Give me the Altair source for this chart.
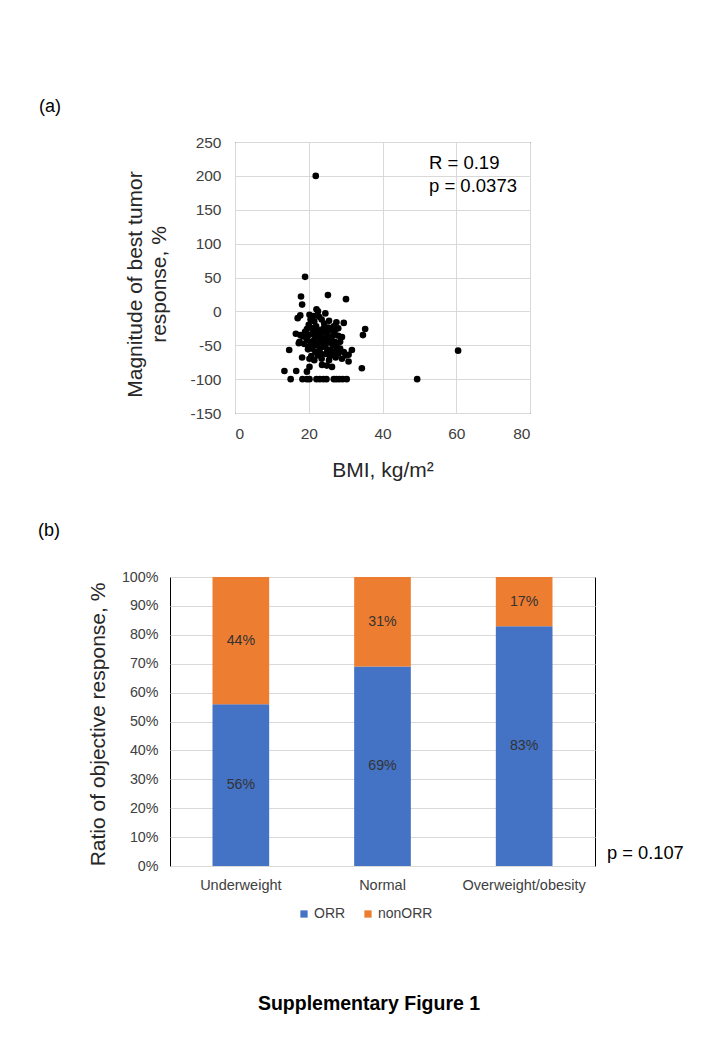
import altair as alt
import pandas as pd

FONT = "Liberation Sans, Arial, sans-serif"

# ---- (a) scatter: BMI vs magnitude of best tumor response ----
bmi = [
    21.9, 19.0, 17.9, 18.2, 25.2, 30.1, 22.1, 17.7, 17.0, 16.5, 17.7, 17.3,
    14.7, 18.2, 13.4, 16.6, 19.5, 20.2, 23.6, 24.9, 26.3, 34.4, 35.3, 34.7,
    31.7, 30.8, 30.8, 49.4, 60.5,
    15.1, 18.3, 19.5, 20.2, 22.1, 23.0, 24.0, 24.8, 26.8, 27.5, 28.3, 29.2, 30.3,
    20.5, 21.5, 22.8, 23.5, 24.2, 25.5, 26.8, 27.5, 20.0, 19.5, 21.0, 22.0,
    23.0, 24.0, 25.0, 26.0, 27.0, 28.0, 29.0, 19.0, 18.5, 20.0, 21.0, 22.0,
    23.0, 24.0, 25.0, 26.0, 27.0, 28.5, 19.5, 20.5, 21.5, 22.5, 23.5, 24.5,
    25.5, 26.5, 27.5, 28.5, 20.0, 21.0, 22.0, 23.0, 24.0, 25.0, 26.0, 27.0,
    29.5, 19.8, 21.8, 23.2, 24.6, 25.8, 22.5, 20.7, 28.0, 30.0, 23.8, 24.8,
    22.3, 23.3, 24.3, 21.5, 26.5, 25.3, 20.2, 21.3, 22.5, 24.5, 29.5, 28.0,
    17.5, 18.8, 20.2, 21.5, 23.5, 25.5, 27.3, 29.0,
]
response = [
    200, 51, 22, 10, 24, 18, 3, -6, -10, -33, -35, -47,
    -57, -68, -88, -88, -89, -82, -79, -80, -82, -84, -26, -35,
    -57, -64, -74, -100, -58,
    -100, -100, -100, -100, -100, -100, -100, -100, -100, -100, -100, -100, -100,
    -12, -15, -8, -12, -18, -14, -22, -16, -20, -26, -25, -22,
    -28, -25, -30, -27, -30, -36, -38, -30, -37, -35, -33, -38,
    -35, -40, -38, -42, -45, -45, -42, -45, -42, -47, -44, -48,
    -46, -50, -52, -55, -52, -55, -50, -55, -52, -56, -58, -60,
    -60, -56, -60, -62, -63, -66, -65, -66, -62, -65, -30, -34,
    -30, -40, -45, -48, -36, -24, -5, -7, 0, -3, -17, -25,
    -45, -48, -70, -72, -70, -72, -68, -70,
]
x_ticks = [0, 20, 40, 60, 80]
y_ticks = [-150, -100, -50, 0, 50, 100, 150, 200, 250]

# ---- (b) stacked bars: ratio of objective response ----
groups = ["Underweight", "Normal", "Overweight/obesity"]
orr_pct = [56, 69, 83]
non_orr_pct = [44, 31, 17]
series = ["ORR", "nonORR"]
pct_ticks = [0, 10, 20, 30, 40, 50, 60, 70, 80, 90, 100]

scatter_df = pd.DataFrame({"bmi": bmi, "response": response})
bar_df = pd.DataFrame({
    "group": groups * 2,
    "series": [series[0]] * 3 + [series[1]] * 3,
    "pct": orr_pct + non_orr_pct,
    "rank": [0] * 3 + [1] * 3,
})

common = dict(domain=False, ticks=False, labelFont=FONT, labelColor="#404040",
              titleFont=FONT, titleFontWeight="normal", titleColor="#262626",
              gridColor="#d9d9d9", gridWidth=1, labelOverlap=False)


def note(text, x, y, size, align="left", weight="normal", color="#000000"):
    return alt.Chart(pd.DataFrame({"t": [text]})).mark_text(
        align=align, baseline="middle", font=FONT, fontSize=size,
        fontWeight=weight, color=color,
    ).encode(x=alt.value(x), y=alt.value(y), text="t:N")


pts = alt.Chart(scatter_df).mark_circle(size=44, color="black", opacity=1).encode(
    x=alt.X("bmi:Q", scale=alt.Scale(domain=[0, 80], nice=False, zero=False),
            axis=alt.Axis(values=x_ticks, title="BMI, kg/m²", grid=True,
                          labelExpr="'' + datum.value",
                          labelFontSize=15.5, labelPadding=13, titleFontSize=21,
                          titleBaseline="middle", titleY=57, **common)),
    y=alt.Y("response:Q", scale=alt.Scale(domain=[-150, 250], nice=False, zero=False),
            axis=alt.Axis(values=y_ticks, title=["Magnitude of best tumor", "response, %"],
                          labelExpr="'' + datum.value",
                          grid=True, labelFontSize=15.5, labelPadding=14,
                          titleFontSize=21, titleAngle=-90, titleBaseline="middle",
                          titleX=-100, titleY=142, titleLineHeight=24, **common)),
)

top = alt.layer(
    pts,
    note("(a)", -196, -35, 18),
    note("R = 0.19", 194, 21, 18.5),
    note("p = 0.0373", 194, 44, 18.5),
).properties(width=295, height=271)

x_axis_b = alt.Axis(title=None, labelAngle=0, labelPadding=12, grid=False,
                    labelFontSize=14.5, **common)
ytitle = "Ratio of objective response, %"
y_axis_b = alt.Axis(values=pct_ticks, labelExpr="datum.value + '%'", title=ytitle,
                    grid=True, labelFontSize=14.3, labelPadding=12,
                    titleFontSize=21, titleAngle=-90, titleBaseline="middle",
                    titleX=-72, titleY=147, **common)
x_scale_b = alt.Scale(paddingInner=0.6, paddingOuter=0.3)
y_scale_b = alt.Scale(domain=[0, 100], nice=False)

bars = alt.Chart(bar_df).mark_bar().encode(
    x=alt.X("group:N", sort=groups, scale=x_scale_b, axis=x_axis_b),
    y=alt.Y("pct:Q", stack="zero", scale=y_scale_b, axis=y_axis_b),
    color=alt.Color("series:N",
                    scale=alt.Scale(domain=series, range=["#4472C4", "#ED7D31"]),
                    legend=alt.Legend(orient="none", legendX=127, legendY=330,
                                      direction="horizontal", title=None,
                                      symbolType="square", symbolSize=53,
                                      symbolStrokeWidth=0, labelFont=FONT,
                                      labelFontSize=14, labelColor="#404040",
                                      labelOffset=3, columnPadding=15, padding=0)),
    order=alt.Order("rank:Q", sort="ascending"),
)

bar_labels = alt.Chart(bar_df).transform_stack(
    stack="pct", groupby=["group"], as_=["v0", "v1"],
    sort=[alt.SortField("rank", order="ascending")],
).transform_calculate(
    mid="(datum.v0 + datum.v1) / 2", lbl="datum.pct + '%'",
).mark_text(font=FONT, fontSize=14.2, color="#333333", baseline="middle").encode(
    x=alt.X("group:N", sort=groups, scale=x_scale_b, axis=x_axis_b),
    y=alt.Y("mid:Q", scale=y_scale_b, axis=y_axis_b),
    text="lbl:N",
)

bottom = alt.layer(
    bars,
    bar_labels,
    note("(b)", -132, -46, 18),
    note("p = 0.107", 437, 277, 18.3),
    note("Supplementary Figure 1", 199, 427, 19.5, align="center", weight="bold"),
).properties(width=425, height=289)

chart = alt.vconcat(top, bottom, spacing=164, bounds="flush", center=True).properties(
    padding={"left": 29, "top": 89, "right": 0, "bottom": 0}
).resolve_legend(color="independent").configure_view(stroke="black", strokeWidth=1)

chart.save("out.html", embed_options={"renderer": "svg", "actions": False})
